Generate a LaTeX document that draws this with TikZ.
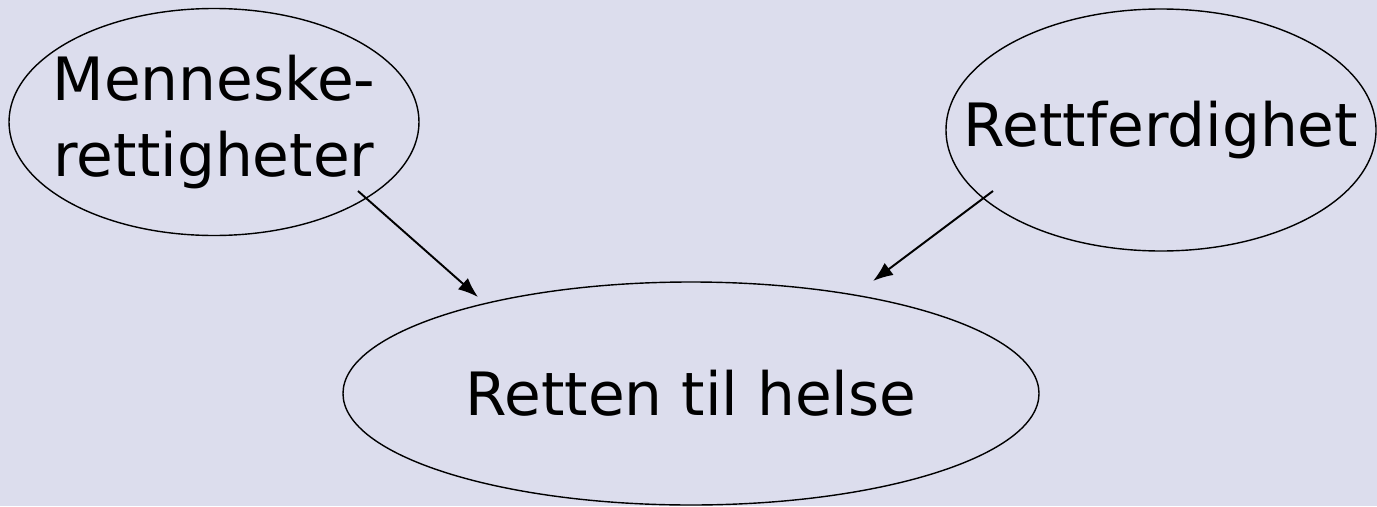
\documentclass[tikz,border=0pt]{standalone}
\usepackage{fontspec}
\setmainfont{DejaVu Sans}
\usepackage{tikz}
\usetikzlibrary{shapes.geometric,arrows.meta}
\definecolor{bakgrunn}{RGB}{220,221,237}
\tikzset{>={Latex[length=4mm,width=3mm]}}
\tikzset{
  boble/.style={draw,ellipse,line width=0.8pt,inner sep=0pt},
  tekst/.style={align=center,inner sep=0pt,font=\fontsize{34}{43.6}\selectfont},
  pil/.style={->,line width=1.1pt}
}
\begin{document}
\begin{tikzpicture}
  \fill[bakgrunn] (0,0) rectangle (27.54,10.12); % bakgrunn
  \useasboundingbox (0,0) rectangle (27.54,10.12);
  % de tre boblene
  \node[boble,minimum width=8.2cm,minimum height=4.54cm] (menneske) at (4.28,7.68) {};
  \node[boble,minimum width=8.6cm,minimum height=4.84cm] (rett) at (23.22,7.52) {};
  \node[boble,minimum width=13.92cm,minimum height=4.46cm] (helse) at (13.82,2.25) {};
  \node[tekst] (menneske-tekst) at (menneske) {Menneske-\\rettigheter};
  \node[tekst] (rett-tekst) at (rett) {Rettferdighet};
  \node[tekst] (helse-tekst) at (helse) {Retten til helse};
  % pilene
  \coordinate (menneske-ut) at ([shift={(2.88,-1.38)}]menneske.center);
  \coordinate (rett-ut) at ([shift={(-3.36,-1.22)}]rett.center);
  \coordinate (helse-inn-v) at ([shift={(-4.26,1.93)}]helse.center);
  \coordinate (helse-inn-h) at ([shift={(3.64,2.25)}]helse.center);
  \draw[pil] (menneske-ut) -- (helse-inn-v);
  \draw[pil] (rett-ut) -- (helse-inn-h);
\end{tikzpicture}
\end{document}
